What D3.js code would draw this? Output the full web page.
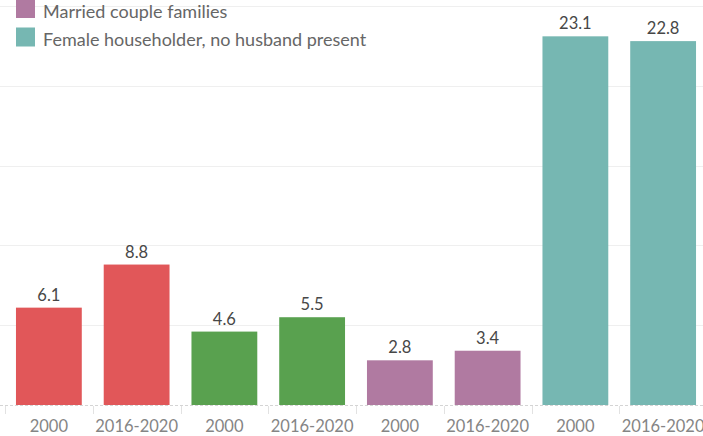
<!DOCTYPE html>
<html>
<head>
<meta charset="utf-8">
<script src="https://cdn.jsdelivr.net/npm/d3@7"></script>
<style>
  html, body { margin: 0; padding: 0; background: #fff; }
  svg { display: block; font-family: Lato, "Open Sans", sans-serif; font-weight: 400; }
</style>
</head>
<body>
<svg id="chart" width="703" height="436"></svg>
<script>
// Bar labels (period) and values, two bars per family type
const categories = ["2000", "2016-2020", "2000", "2016-2020", "2000", "2016-2020", "2000", "2016-2020"];
const values = [6.1, 8.8, 4.6, 5.5, 2.8, 3.4, 23.1, 22.8];
const groupIndex = [0, 0, 1, 1, 2, 2, 3, 3];
const groupColors = ["#E15759", "#59A14F", "#B07AA1", "#76B7B2"];
const yTicks = [0, 5, 10, 15, 20, 25];
const legendLabels = ["Married couple families", "Female householder, no husband present"];
const legendGroups = [2, 3];

const W = 703, H = 436;
const svg = d3.select("#chart");

const x = d3.scaleBand()
  .domain(d3.range(categories.length))
  .range([5, 707])
  .paddingInner(0.25)
  .paddingOuter(0.125);

const y = d3.scaleLinear().domain([0, 25]).range([405, 6]);

// horizontal gridlines
svg.append("g")
  .selectAll("line")
  .data(yTicks.filter(t => t > 0))
  .join("line")
  .attr("x1", 0).attr("x2", W)
  .attr("y1", d => Math.round(y(d)) + 0.5)
  .attr("y2", d => Math.round(y(d)) + 0.5)
  .attr("stroke", "#efefef")
  .attr("stroke-width", 1);

// zero line
svg.append("line")
  .attr("x1", 0).attr("x2", W)
  .attr("y1", Math.round(y(0)) + 0.5).attr("y2", Math.round(y(0)) + 0.5)
  .attr("stroke", "#d4d4d4")
  .attr("stroke-dasharray", "3,2");

// header separators between bars
const step = x.step();
const start = x.range()[0];
svg.append("g")
  .selectAll("line")
  .data(d3.range(categories.length + 1))
  .join("line")
  .attr("x1", i => Math.round(start + i * step) + 0.5)
  .attr("x2", i => Math.round(start + i * step) + 0.5)
  .attr("y1", Math.round(y(0)) + 1)
  .attr("y2", Math.round(y(0)) + 9)
  .attr("stroke", "#e2e2e2");

// bars
svg.append("g")
  .selectAll("rect")
  .data(values)
  .join("rect")
  .attr("x", (d, i) => x(i))
  .attr("y", d => y(d))
  .attr("width", x.bandwidth())
  .attr("height", d => y(0) - y(d))
  .attr("fill", (d, i) => groupColors[groupIndex[i]]);

// value labels
svg.append("g")
  .selectAll("text")
  .data(values)
  .join("text")
  .attr("x", (d, i) => x(i) + x.bandwidth() / 2)
  .attr("y", d => y(d) - 7)
  .attr("text-anchor", "middle")
  .attr("font-size", 16.5)
  .attr("fill", "#474747")
  .text(d => d.toFixed(1));

// category labels
svg.append("g")
  .selectAll("text")
  .data(categories)
  .join("text")
  .attr("x", (d, i) => x(i) + x.bandwidth() / 2)
  .attr("y", 432)
  .attr("text-anchor", "middle")
  .attr("font-size", 16.5)
  .attr("fill", "#858585")
  .text(d => d);

// legend
const legend = svg.append("g")
  .selectAll("g")
  .data(legendLabels)
  .join("g")
  .attr("transform", (d, i) => `translate(16, ${-1 + i * 28.5})`);
legend.append("rect")
  .attr("width", 19).attr("height", 19)
  .attr("fill", (d, i) => groupColors[legendGroups[i]]);
legend.append("text")
  .attr("x", 27).attr("y", 18.5)
  .attr("font-size", 18)
  .attr("fill", "#666")
  .text(d => d);
</script>
</body>
</html>
